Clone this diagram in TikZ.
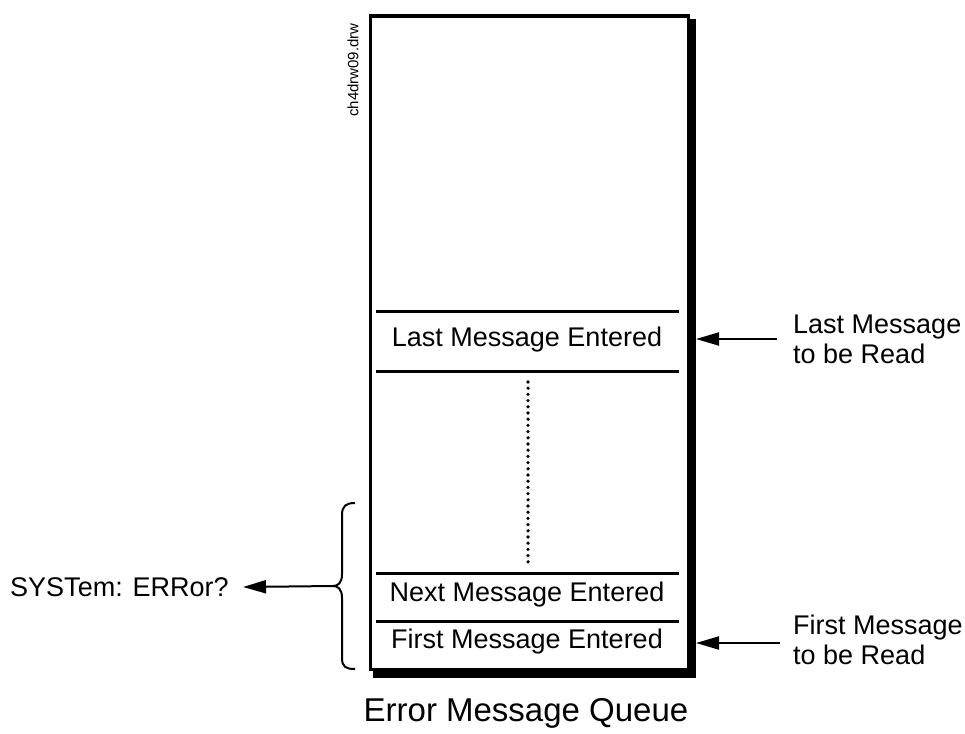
\documentclass[tikz,border=0pt]{standalone}
\usepackage{fontspec}
\setmainfont{Liberation Sans}
\usetikzlibrary{arrows.meta}
\begin{document}
\begin{tikzpicture}[x=1pt,y=-1pt,
  lbl/.style={inner sep=0pt,font=\fontsize{27}{30}\selectfont},
  side/.style={inner sep=0pt,anchor=west,align=left,font=\fontsize{27}{30}\selectfont},
  divider/.style={line width=3pt},
  arr/.style={line width=2pt,-{Triangle[length=23pt,width=13pt]}},
  shadow/.style={fill=black,draw=none}]
\useasboundingbox (0,0) rectangle (965,733);
% shadow
\fill[shadow] (686,19) rectangle (696,678);
\fill[shadow] (373,666) rectangle (696,678);
% box
\node[draw,line width=3.2pt,fill=white,minimum width=318pt,minimum height=653pt,inner sep=0pt,anchor=north west] (box) at (368.5,14.5) {};
% dividers
\coordinate (d1l) at (376,311); \coordinate (d1r) at (679,311);
\coordinate (d2l) at (376,371); \coordinate (d2r) at (679,371);
\coordinate (d3l) at (376,573); \coordinate (d3r) at (679,573);
\coordinate (d4l) at (376,621); \coordinate (d4r) at (679,621);
\draw[divider] (d1l) -- (d1r);
\draw[divider] (d2l) -- (d2r);
\draw[divider] (d3l) -- (d3r);
\draw[divider] (d4l) -- (d4r);
% entries
\node[lbl] (last) at (527,340) {Last Message Entered};
\node[lbl] (next) at (527,595) {Next Message Entered};
\node[lbl] (first) at (527,642) {First Message Entered};
% dotted
\coordinate (dt) at (528,382); \coordinate (db) at (528,562);
\draw[line width=3.6pt,line cap=round,dash pattern=on 0pt off 6.2pt] (dt) -- (db);
% file tag
\node[inner sep=0pt,rotate=90,font=\fontsize{15}{18}\selectfont] (tag) at (353,70) {ch4drw09.drw};
% right labels
\node[side] (lastread) at (793,339) {Last Message\\to be Read};
\node[side] (firstread) at (793,640) {First Message\\to be Read};
\coordinate (a1s) at (777,339); \coordinate (a1e) at (696,339);
\coordinate (a2s) at (780,643); \coordinate (a2e) at (696,643);
\draw[arr] (a1s) -- (a1e);
\draw[arr] (a2s) -- (a2e);
% brace
\coordinate (tip) at (333,586);
\draw[line width=2pt] (355,503) .. controls (346,503) and (342,506) .. (342,515)
  -- (342,574) .. controls (342,583) and (338,586) .. (tip)
  .. controls (338,586) and (342,589) .. (342,598)
  -- (342,658) .. controls (342,667) and (346,669) .. (355,669);
% SYSTem
\node[lbl,anchor=west] (sys) at (10,587) {SYSTem: ERRor?};
\coordinate (a3e) at (243,587);
\draw[arr] (tip) -- (a3e);
% title
\node[inner sep=0pt,font=\fontsize{33}{36}\selectfont] (title) at (526,713) {Error Message Queue};
\end{tikzpicture}
\end{document}
